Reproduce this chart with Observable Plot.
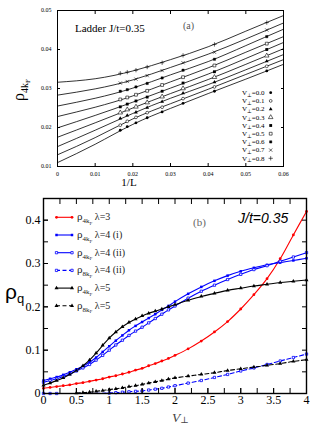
<!DOCTYPE html>
<html><head><meta charset="utf-8">
<script src="https://cdn.jsdelivr.net/npm/d3@7"></script>
<script src="https://cdn.jsdelivr.net/npm/@observablehq/plot@0.6"></script>
<style>
body{margin:0;background:#fff;}
#wrap{width:312px;height:424px;overflow:hidden;}
#wrap svg{display:block;}
</style></head><body><div id="wrap"></div>
<script>
// ---------------- Panel (a) data ----------------
const chainL = [60, 54, 48, 42, 36, 30, 24, 18];
const vPerpA = ["0.0","0.1","0.2","0.3","0.4","0.5","0.6","0.7","0.8"];
const rhoV00 = [0.0193,0.0202,0.0212,0.0225,0.0240,0.0262,0.0293,0.0345];
const rhoV01 = [0.0206,0.0216,0.0226,0.0238,0.0252,0.0274,0.0304,0.0357];
const rhoV02 = [0.0223,0.0231,0.0239,0.0251,0.0266,0.0288,0.0316,0.0370];
const rhoV03 = [0.0238,0.0246,0.0253,0.0264,0.0279,0.0300,0.0329,0.0384];
const rhoV04 = [0.0253,0.0260,0.0268,0.0278,0.0293,0.0314,0.0343,0.0400];
const rhoV05 = [0.0272,0.0277,0.0284,0.0294,0.0309,0.0329,0.0359,0.0415];
const rhoV06 = [0.0293,0.0297,0.0304,0.0313,0.0327,0.0347,0.0375,0.0433];
const rhoV07 = [0.0314,0.0318,0.0324,0.0333,0.0346,0.0366,0.0393,0.0450];
const rhoV08 = [0.0339,0.0342,0.0347,0.0355,0.0366,0.0385,0.0413,0.0469];
const fitInvL = [0, 0.01, 0.02, 0.03, 0.04, 0.05, 0.06];
const fitV00 = [0.0110,0.0157,0.0208,0.0249,0.0287,0.0324,0.0362];
const fitV01 = [0.0130,0.0174,0.0222,0.0261,0.0298,0.0336,0.0374];
const fitV02 = [0.0151,0.0193,0.0236,0.0275,0.0310,0.0348,0.0387];
const fitV03 = [0.0175,0.0212,0.0250,0.0287,0.0323,0.0362,0.0402];
const fitV04 = [0.0199,0.0231,0.0265,0.0301,0.0337,0.0377,0.0418];
const fitV05 = [0.0228,0.0252,0.0281,0.0317,0.0353,0.0393,0.0433];
const fitV06 = [0.0255,0.0275,0.0301,0.0335,0.0369,0.0410,0.0452];
const fitV07 = [0.0283,0.0299,0.0322,0.0354,0.0388,0.0427,0.0468];
const fitV08 = [0.0316,0.0325,0.0345,0.0374,0.0407,0.0447,0.0487];
const xTicksA = [0, 0.01, 0.02, 0.03, 0.04, 0.05, 0.06];
const yTicksA = [0.01, 0.02, 0.03, 0.04, 0.05];

// ---------------- Panel (b) data ----------------
const vGrid = [0,0.1,0.2,0.3,0.4,0.5,0.6,0.7,0.8,0.9,1.0,1.1,1.2,1.3,1.4,1.5,1.6,1.7,1.8,1.9,2.0,2.2,2.4,2.6,2.8,3.0,3.2,3.4,3.6,3.8,4.0];
const rho4k_l3   = [0.012,0.014,0.016,0.018,0.020,0.023,0.025,0.028,0.031,0.034,0.038,0.041,0.045,0.049,0.054,0.058,0.064,0.069,0.075,0.081,0.088,0.103,0.121,0.142,0.166,0.195,0.228,0.265,0.311,0.366,0.420];
const rho4k_l4i  = [0.030,0.034,0.038,0.043,0.049,0.056,0.063,0.072,0.083,0.096,0.109,0.122,0.134,0.146,0.156,0.165,0.174,0.183,0.193,0.202,0.212,0.230,0.246,0.260,0.272,0.282,0.290,0.297,0.302,0.307,0.312];
const rho4k_l4ii = [0.026,0.030,0.034,0.039,0.045,0.052,0.059,0.067,0.077,0.088,0.100,0.112,0.123,0.134,0.144,0.153,0.163,0.173,0.183,0.193,0.202,0.220,0.236,0.250,0.263,0.275,0.286,0.295,0.305,0.315,0.325];
const rho4k_l5   = [0.019,0.024,0.030,0.036,0.044,0.053,0.064,0.077,0.093,0.111,0.128,0.142,0.154,0.164,0.172,0.179,0.185,0.190,0.195,0.200,0.205,0.215,0.224,0.231,0.238,0.243,0.248,0.252,0.256,0.259,0.262];
const vGrid8_l4ii = [0,0.1,0.2,1.0,1.1,1.2,1.3,1.4,1.5,1.6,1.7,1.8,1.9,2.0,2.2,2.4,2.6,2.8,3.0,3.2,3.4,3.6,3.8,4.0];
const rho8k_l4ii  = [0,0,0,0.001,0.002,0.003,0.004,0.005,0.006,0.008,0.010,0.012,0.015,0.018,0.024,0.030,0.037,0.044,0.052,0.059,0.067,0.075,0.083,0.091];
const vGrid8_l5 = [0.5,0.6,0.7,0.8,0.9,1.0,1.1,1.2,1.3,1.4,1.5,1.6,1.7,1.8,1.9,2.0,2.2,2.4,2.6,2.8,3.0,3.2,3.4,3.6,3.8,4.0];
const rho8k_l5  = [0.001,0.002,0.003,0.005,0.007,0.009,0.011,0.013,0.016,0.018,0.021,0.024,0.027,0.030,0.033,0.036,0.040,0.044,0.048,0.053,0.057,0.061,0.065,0.069,0.074,0.078];
const xTicksB = [0,0.5,1,1.5,2,2.5,3,3.5,4];
const xMinorB = [0,0.25,0.5,0.75,1,1.25,1.5,1.75,2,2.25,2.5,2.75,3,3.25,3.5,3.75,4];
const yTicksB = [0,0.1,0.2,0.3,0.4];
const yMinorB = [0,0.05,0.1,0.15,0.2,0.25,0.3,0.35,0.4,0.45];
const legendB = ["λ=3","λ=4 (i)","λ=4 (ii)","λ=4 (ii)","λ=5","λ=5"];
const legendBq = ["4k","4k","4k","8k","4k","8k"];

// ---------------- Panel (a) ----------------
const SERIF = "'Liberation Serif','DejaVu Serif',serif";
const SANS = "'Liberation Sans',Arial,sans-serif";
const pointsA = [rhoV00,rhoV01,rhoV02,rhoV03,rhoV04,rhoV05,rhoV06,rhoV07,rhoV08];
const fitsA = [fitV00,fitV01,fitV02,fitV03,fitV04,fitV05,fitV06,fitV07,fitV08];
const styleA = [
  {symbol:"circle", r:1.4, fill:"#000", stroke:"none", sw:0},
  {symbol:"circle", r:1.4, fill:"#fff", stroke:"#000", sw:0.6},
  {symbol:"triangle", r:1.4, fill:"#000", stroke:"none", sw:0},
  {symbol:"triangle", r:1.7, fill:"#fff", stroke:"#000", sw:0.6},
  {symbol:"square", r:1.6, fill:"#000", stroke:"none", sw:0},
  {symbol:"square", r:1.6, fill:"#fff", stroke:"#000", sw:0.6},
  {symbol:"square", r:1.3, fill:"#000", stroke:"#000", sw:0.4},
  {symbol:"times", r:1.6, fill:"none", stroke:"#000", sw:0.6},
  {symbol:"plus", r:1.5, fill:"none", stroke:"#000", sw:0.6}
];
const fitRows = fitsA.flatMap((arr, k) => arr.map((v, i) => ({k, x: fitInvL[i], y: v})));
const dotMarksA = pointsA.map((arr, k) => {
  const st = styleA[k];
  return Plot.dot(arr.map((v, i) => ({x: 1 / chainL[i], y: v})),
    {x: "x", y: "y", symbol: st.symbol, r: st.r, fill: st.fill, stroke: st.stroke, strokeWidth: st.sw});
});
const fmtA = d => d === 0 ? "0" : d.toFixed(2);
const plotA = Plot.plot({
  width: 312, height: 190,
  marginLeft: 57, marginRight: 29, marginTop: 10, marginBottom: 24,
  x: {domain: [0, 0.06]}, y: {domain: [0.01, 0.05]},
  style: {fontFamily: SERIF, fontSize: "6px", color: "#000", background: "#fff"},
  marks: [
    Plot.line(fitRows, {x: "x", y: "y", z: "k", curve: "natural", stroke: "#000", strokeWidth: 0.8}),
    ...dotMarksA,
    Plot.frame({stroke: "#000", strokeWidth: 1}),
    Plot.axisX(xTicksA, {anchor: "bottom", tickSize: -3, tickPadding: 8, tickFormat: fmtA, label: null}),
    Plot.axisX(xTicksA, {anchor: "top", tickSize: -3, fill: "none", label: null}),
    Plot.axisY(yTicksA, {anchor: "left", tickSize: -3, tickPadding: 9, tickFormat: fmtA, label: null}),
    Plot.axisY(yTicksA, {anchor: "right", tickSize: -3, fill: "none", label: null})
  ]
});

// ---------------- Panel (b) ----------------
const seriesB = [
  {x: vGrid, y: rho4k_l3, color: "#ff0000", dash: null, symbol: "circle", open: false, r: 1.4},
  {x: vGrid, y: rho4k_l4i, color: "#0000ff", dash: null, symbol: "square", open: false, r: 1.4},
  {x: vGrid, y: rho4k_l4ii, color: "#0000ff", dash: null, symbol: "square", open: true, r: 1.3},
  {x: vGrid8_l4ii, y: rho8k_l4ii, color: "#0000ff", dash: "4,2.5", symbol: "square", open: true, r: 1.3},
  {x: vGrid, y: rho4k_l5, color: "#000000", dash: null, symbol: "triangle", open: false, r: 1.5},
  {x: vGrid8_l5, y: rho8k_l5, color: "#000000", dash: "4,2.5", symbol: "triangle", open: false, r: 1.5}
];
const marksB = [];
seriesB.forEach(s => {
  const rows = s.x.map((v, i) => ({x: v, y: s.y[i]}));
  marksB.push(Plot.line(rows, {x: "x", y: "y", curve: "catmull-rom", stroke: s.color, strokeWidth: 1.1, strokeDasharray: s.dash}));
});
seriesB.forEach(s => {
  const rows = s.x.map((v, i) => ({x: v, y: s.y[i]}));
  marksB.push(Plot.dot(rows, {x: "x", y: "y", symbol: s.symbol, r: s.r,
    fill: s.open ? "#fff" : s.color, stroke: s.open ? s.color : "none", strokeWidth: 0.8}));
});
const plotB = Plot.plot({
  width: 312, height: 234,
  marginLeft: 43, marginRight: 6, marginTop: 8, marginBottom: 31,
  x: {domain: [0, 4]}, y: {domain: [0, 0.45]},
  style: {fontFamily: SERIF, fontSize: "12px", color: "#000", background: "#fff"},
  marks: [
    ...marksB,
    Plot.frame({stroke: "#000", strokeWidth: 1.4}),
    Plot.axisX(xMinorB, {anchor: "bottom", tickSize: -5, fill: "none", label: null}),
    Plot.axisX(xTicksB, {anchor: "bottom", tickSize: -5, tickPadding: 7, label: null, tickFormat: d => String(d)}),
    Plot.axisX(xMinorB, {anchor: "top", tickSize: -5, fill: "none", label: null}),
    Plot.axisY(yMinorB, {anchor: "left", tickSize: -5, fill: "none", label: null}),
    Plot.axisY(yTicksB, {anchor: "left", tickSize: -5, tickPadding: 8, label: null, tickFormat: d => String(d)}),
    Plot.axisY(yMinorB, {anchor: "right", tickSize: -5, fill: "none", label: null})
  ]
});

const wrap = document.getElementById("wrap");
wrap.appendChild(plotA);
wrap.appendChild(plotB);

// ---------------- Annotations ----------------
function addText(sel, x, y, parts, base) {
  const t = sel.append("text").attr("x", x).attr("y", y)
    .attr("font-family", base.family || SERIF).attr("font-size", base.size)
    .attr("fill", base.fill || "#000")
    .attr("text-anchor", base.anchor || "start");
  if (base.style) t.attr("font-style", base.style);
  if (base.transform) t.attr("transform", base.transform);
  parts.forEach(p => {
    const ts = t.append("tspan").text(p.t);
    if (p.size) ts.attr("font-size", p.size);
    if (p.dy) ts.attr("dy", p.dy);
  });
  return t;
}
const symOf = {circle: d3.symbolCircle, triangle: d3.symbolTriangle, square: d3.symbolSquare, times: d3.symbolTimes, plus: d3.symbolPlus};

const sa = d3.select(plotA);
addText(sa, 75, 32, [{t: "Ladder J/t=0.35"}], {size: 11});
addText(sa, 183, 28.5, [{t: "(a)"}], {size: 10, fill: "#555"});
addText(sa, 129, 185.5, [{t: "1/L"}], {size: 11, anchor: "middle"});
addText(sa, 0, 0, [{t: "ρ"}, {t: "4k", size: 10, dy: 3.5}, {t: "F", size: 7, dy: 2}],
  {size: 16, anchor: "middle", transform: "translate(24,90) rotate(-90)"});
vPerpA.forEach((lab, k) => {
  const y = 92.7 + k * 8.2;
  addText(sa, 242, y + 2.3, [{t: "V"}, {t: "⊥", size: 5, dy: 1.5}, {t: "=" + lab, size: 7, dy: -1.5}], {size: 7});
  const st = styleA[k];
  sa.append("path").attr("d", d3.symbol(symOf[st.symbol], st.r * st.r * Math.PI)())
    .attr("transform", `translate(270.7,${y})`)
    .attr("fill", st.fill).attr("stroke", st.stroke).attr("stroke-width", st.sw);
});

const sb = d3.select(plotB);
addText(sb, 238, 33, [{t: "J/t=0.35"}], {size: 14, style: "italic", family: SANS});
addText(sb, 193, 36, [{t: "(b)"}], {size: 11, fill: "#666"});
addText(sb, 5, 109, [{t: "ρ"}, {t: "q", size: 13, dy: 4}], {size: 21, family: SANS});
addText(sb, 172, 231.5, [{t: "V"}, {t: "⊥", size: 9, dy: 1.5}], {size: 13.5, style: "italic", fill: "#444"});
seriesB.forEach((s, k) => {
  const y = 27.3 + k * 17.7;
  const g = sb.append("g");
  g.append("line").attr("x1", 56).attr("x2", 72.5).attr("y1", y).attr("y2", y)
    .attr("stroke", s.color).attr("stroke-width", 1.1).attr("stroke-dasharray", s.dash);
  [56.5, 72].forEach(x => {
    g.append("path").attr("d", d3.symbol(symOf[s.symbol], s.r * s.r * Math.PI)())
      .attr("transform", `translate(${x},${y})`)
      .attr("fill", s.open ? "#fff" : s.color).attr("stroke", s.open ? s.color : "none").attr("stroke-width", 0.8);
  });
  addText(sb, 77, y + 3, [{t: "ρ"}, {t: legendBq[k], size: 7, dy: 3}, {t: "F", size: 5, dy: 1.5}, {t: " " + legendB[k], size: 10, dy: -4.5}],
    {size: 11, fill: "#222"});
});
</script></body></html>
